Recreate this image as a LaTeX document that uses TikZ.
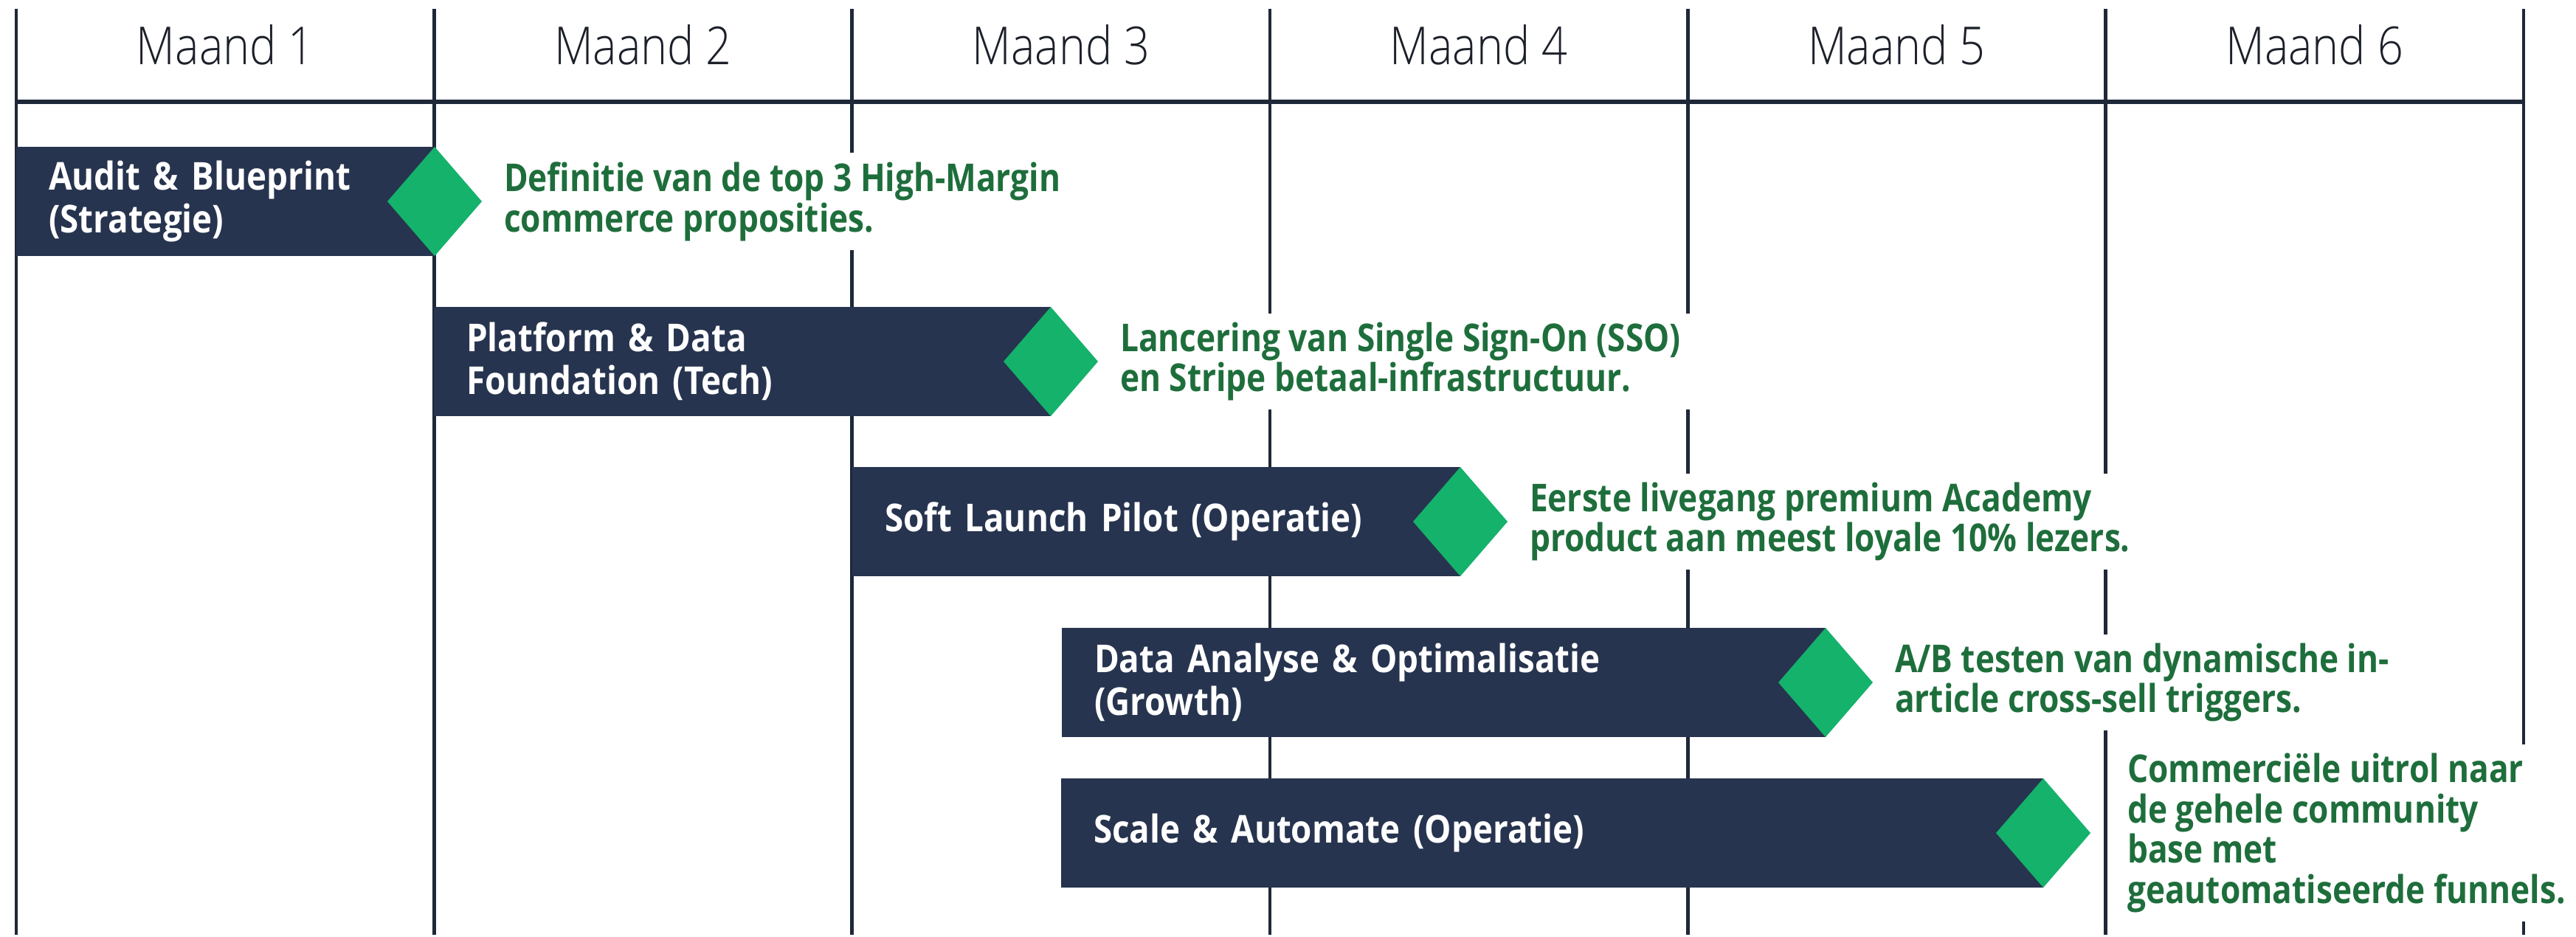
\documentclass[tikz,border=0pt]{standalone}
\usepackage{fontspec}
\setmainfont{Open Sans}[FakeStretch=0.85]
\newfontfamily\kopfont{Open Sans Light}[FakeStretch=0.86]
\newfontfamily\fasefont{Open Sans}[FakeStretch=0.88]
\usetikzlibrary{positioning,shapes.geometric}

\definecolor{barnavy}{HTML}{27344F}
\definecolor{gridline}{HTML}{1E2838}
\definecolor{mijlgroen}{HTML}{14B26B}
\definecolor{tekstgroen}{HTML}{1E6E3C}
\definecolor{kopgrijs}{HTML}{1C2029}

\tikzset{
  maand/.style={anchor=base, text=kopgrijs, font=\kopfont\fontsize{20.2pt}{24pt}\selectfont},
  fase/.style={rectangle, anchor=west, fill=barnavy, text=white, minimum height=1.48cm,
    inner xsep=0.44cm, inner ysep=0pt, outer sep=0pt, align=left,
    font=\fasefont\bfseries\fontsize{14.8pt}{16.4pt}\selectfont},
  mijlpaal/.style={diamond, fill=mijlgroen, minimum width=1.28cm, minimum height=1.48cm,
    inner sep=0pt, outer sep=0pt},
  resultaat/.style={fill=white, text=tekstgroen, align=left, inner xsep=0.1cm,
    inner ysep=0.12cm, outer sep=0pt, font=\bfseries\fontsize{14.8pt}{15.6pt}\selectfont},
}

\begin{document}
\begin{tikzpicture}
      \fill[white] (0,0) rectangle (34.91,-12.67);

      % kolommen
      \draw[gridline, line width=1.3pt] (0.22,-0.12) -- (0.22,-12.67);
      \draw[gridline, line width=1.3pt] (5.883,-0.12) -- (5.883,-12.67);
      \draw[gridline, line width=1.3pt] (11.546,-0.12) -- (11.546,-12.67);
      \draw[gridline, line width=1.3pt] (17.209,-0.12) -- (17.209,-12.67);
      \draw[gridline, line width=1.3pt] (22.872,-0.12) -- (22.872,-12.67);
      \draw[gridline, line width=1.3pt] (28.535,-0.12) -- (28.535,-12.67);
      \draw[gridline, line width=1.3pt] (34.198,-0.12) -- (34.198,-12.67);
      \draw[gridline, line width=1.6pt] (0.22,-1.38) -- (34.198,-1.38);

      \node[maand] (maand1) at (3.052,-0.87) {Maand 1};
      \node[maand] (maand2) at (8.715,-0.87) {Maand 2};
      \node[maand] (maand3) at (14.378,-0.87) {Maand 3};
      \node[maand] (maand4) at (20.041,-0.87) {Maand 4};
      \node[maand] (maand5) at (25.704,-0.87) {Maand 5};
      \node[maand] (maand6) at (31.367,-0.87) {Maand 6};

      % fasen
      \node[fase, text width=4.79cm] (fase1) at (0.22,-2.73) {Audit \& Blueprint\\(Strategie)};
      \node[mijlpaal] (mijl1) at (fase1.east) {};
      \node[resultaat, right=0.2cm of mijl1] (res1) {Definitie van de top 3 High-Margin\\commerce proposities.};

      \node[fase, text width=7.48cm] (fase2) at (5.88,-4.90) {Platform \& Data\\Foundation (Tech)};
      \node[mijlpaal] (mijl2) at (fase2.east) {};
      \node[resultaat, inner xsep=0.25cm, right=0.05cm of mijl2] (res2) {Lancering van Single Sign-On (SSO)\\en Stripe betaal-infrastructuur.};

      \node[fase, text width=7.36cm] (fase3) at (11.55,-7.07) {Soft Launch Pilot (Operatie)};
      \node[mijlpaal] (mijl3) at (fase3.east) {};
      \node[resultaat, right=0.2cm of mijl3] (res3) {Eerste livegang premium Academy\\product aan meest loyale 10\% lezers.};

      \node[fase, text width=9.47cm] (fase4) at (14.39,-9.25) {Data Analyse \& Optimalisatie\\(Growth)};
      \node[mijlpaal] (mijl4) at (fase4.east) {};
      \node[resultaat, right=0.2cm of mijl4] (res4) {A/B testen van dynamische in-\\article cross-sell triggers.};

      \node[fase, text width=12.43cm] (fase5) at (14.38,-11.29) {Scale \& Automate (Operatie)};
      \node[mijlpaal] (mijl5) at (fase5.east) {};
      \node[resultaat, right=0.4cm of mijl5] (res5) {Commerciële uitrol naar\\de gehele community\\base met\\geautomatiseerde funnels.};
\end{tikzpicture}
\end{document}
